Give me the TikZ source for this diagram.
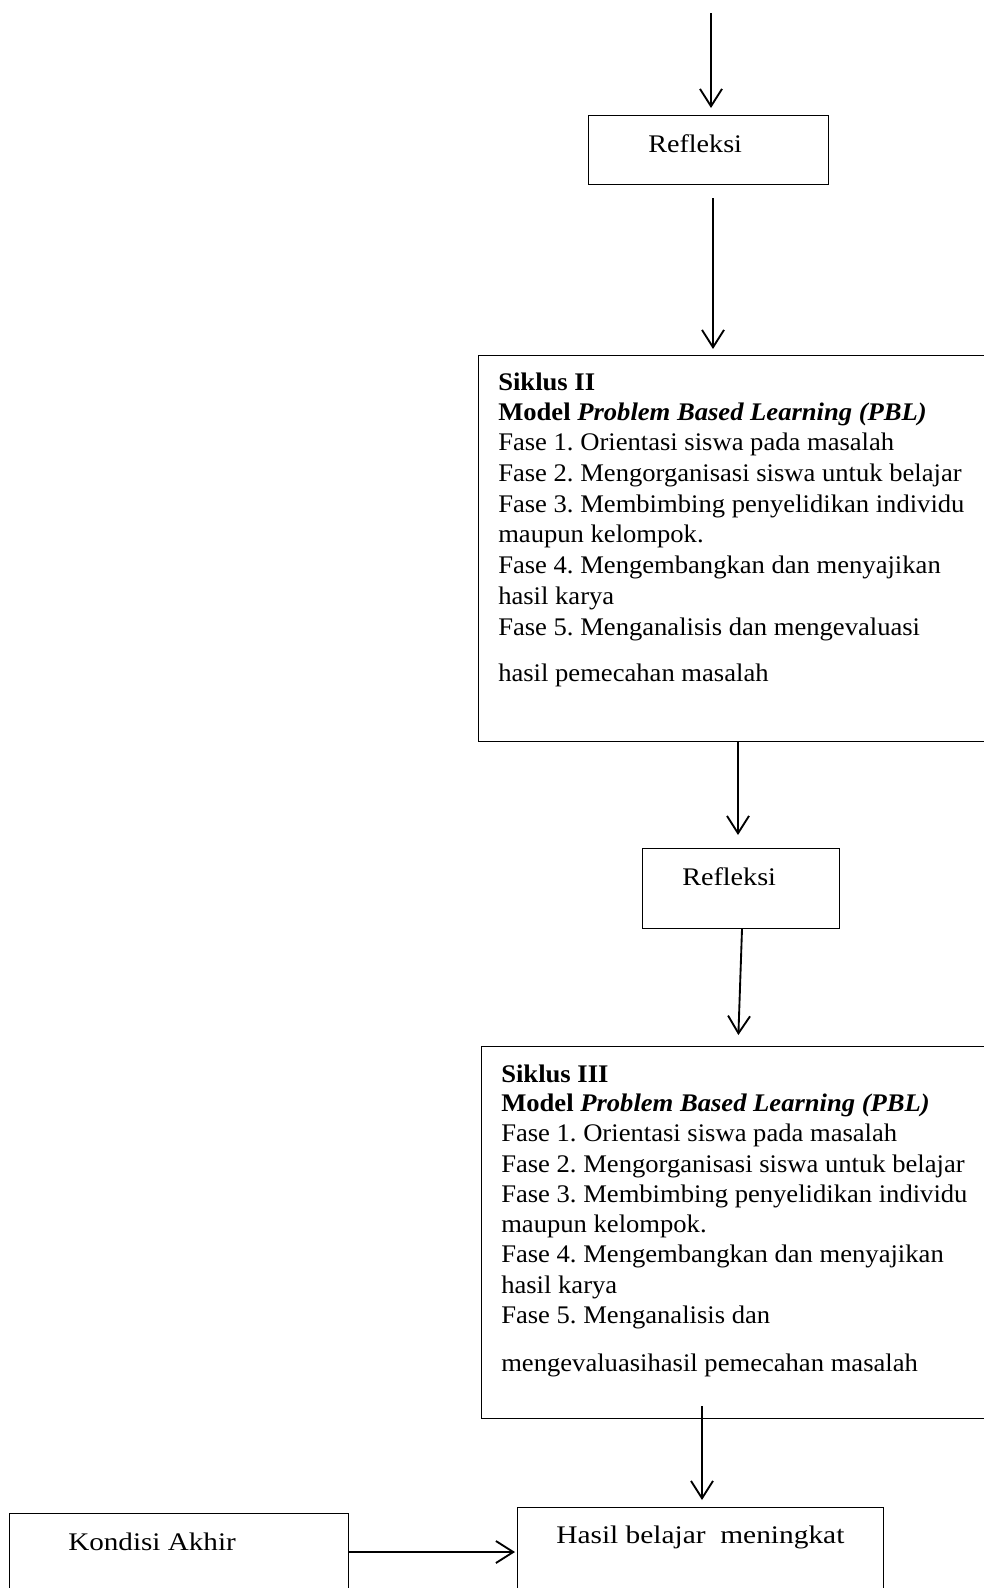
\documentclass[tikz,border=0pt]{standalone}
\usepackage{fontspec}
\setmainfont{Liberation Serif}
\usetikzlibrary{arrows.meta,calc}
\frenchspacing
\begin{document}
\begin{tikzpicture}[x=0.75pt,y=-0.75pt,
  font=\fontsize{19}{22}\selectfont,
  box/.style={draw,line width=0.9pt,anchor=north west,inner sep=0pt},
  txt/.style={anchor=base west,inner sep=0pt,transform shape,xscale=1.05},
  lbl/.style={anchor=base west,inner sep=0pt,transform shape,xscale=#1},
  arr/.style={line width=1.4pt,-{Straight Barb[length=13pt,width=16.5pt,line width=1.4pt]}}]
\clip (0,0) rectangle (984,1588);
% boxes
\node[box,minimum width=180pt,minimum height=51.75pt] (r1) at (588,115) {};
\node[box,minimum width=391.5pt,minimum height=289.5pt] (s2) at (478,355) {};
\node[box,minimum width=147.75pt,minimum height=60pt] (r2) at (642,848) {};
\node[box,minimum width=389.25pt,minimum height=279pt] (s3) at (481,1046) {};
\node[box,minimum width=274.5pt,minimum height=75pt] (hb) at (517,1507) {};
\node[box,minimum width=254.25pt,minimum height=70pt] (ka) at (9,1513) {};
% texts
\node[lbl=1.11] (r1t) at (648,152) {Refleksi};
\node[lbl=1.11] (r2t) at (682,885) {Refleksi};
\node[lbl=1.15] (kat) at (68,1550) {Kondisi Akhir};
\node[lbl=1.16] (hbt) at (556,1543) {Hasil belajar\ \ meningkat};
\foreach \n/\y/\t in {1/390/{\textbf{Siklus II}},
  2/420/{\textbf{Model \textit{Problem Based Learning (PBL)}}},
  3/450/{Fase 1. Orientasi siswa pada masalah},
  4/481/{Fase 2. Mengorganisasi siswa untuk belajar},
  5/512/{Fase 3. Membimbing penyelidikan individu},
  6/542/{maupun kelompok.},
  7/573/{Fase 4. Mengembangkan dan menyajikan},
  8/604/{hasil karya},
  9/635/{Fase 5. Menganalisis dan mengevaluasi},
  10/681/{hasil pemecahan masalah}}
  \node[txt] (s2l\n) at (498,\y) {\t};
\foreach \n/\y/\t in {1/1082/{\textbf{Siklus III}},
  2/1111/{\textbf{Model \textit{Problem Based Learning (PBL)}}},
  3/1141/{Fase 1. Orientasi siswa pada masalah},
  4/1172/{Fase 2. Mengorganisasi siswa untuk belajar},
  5/1202/{Fase 3. Membimbing penyelidikan individu},
  6/1232/{maupun kelompok.},
  7/1262/{Fase 4. Mengembangkan dan menyajikan},
  8/1293/{hasil karya},
  9/1323/{Fase 5. Menganalisis dan},
  10/1371/{mengevaluasihasil pemecahan masalah}}
  \node[txt] (s3l\n) at (501,\y) {\t};
% connectors
\coordinate (top) at (711,13);
\coordinate (c1) at (713,0);
\coordinate (c2) at (738,0);
\coordinate (c3a) at (742,0);
\coordinate (c3b) at (738,0);
\coordinate (c4) at (702,0);
\coordinate (k1) at (348,1552);
\draw[arr,shorten >=5.25pt] (top) -- (r1.north -| top);
\draw[arr,shorten <=9.75pt,shorten >=4.5pt] (r1.south -| c1) -- (s2.north -| c1);
\draw[arr,shorten >=9.75pt] (s2.south -| c2) -- (r2.north -| c2);
\draw[arr,shorten >=8.25pt] (r2.south -| c3a) -- (s3.north -| c3b);
\draw[arr,shorten <=-9.75pt,shorten >=5.25pt] (s3.south -| c4) -- (hb.north -| c4);
\draw[arr,line width=2pt,shorten >=1.5pt] (ka.east |- k1) -- (hb.west |- k1);
\end{tikzpicture}
\end{document}
